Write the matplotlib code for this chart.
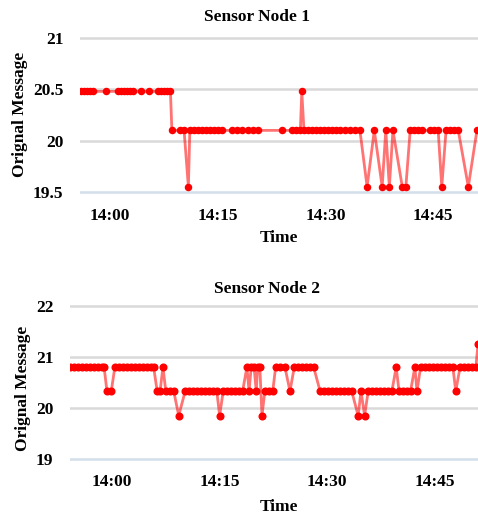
import matplotlib
matplotlib.use("Agg")
from matplotlib import pyplot as plt

# minutes after 14:00
node1_t = [-4.0, -3.6, -3.2, -2.8, -2.4, -0.6, 1.1, 1.5, 1.9, 2.4, 2.8, 3.2, 4.3, 5.4,
           6.7, 7.1, 7.5, 7.9, 8.4,
           8.6, 9.7, 10.3, 10.9,
           11.1, 11.7, 12.3, 12.8, 13.4, 13.9, 14.5, 15.0, 15.6, 17.0, 17.7, 18.4, 19.2, 19.9, 20.6, 24.0,
           25.3, 25.9, 26.5, 26.7,
           27.0, 27.6, 28.1, 28.7, 29.2, 29.8, 30.4, 30.9, 31.5, 32.0, 32.7, 33.4, 34.1, 34.8,
           35.8, 36.8, 37.9, 38.4, 38.9, 39.4, 40.7, 41.2,
           41.8, 42.3, 42.9, 43.5, 44.6, 45.1, 45.7, 46.2, 46.8, 47.4, 47.9, 48.5, 49.9, 51.1]
node1_v = [20.48, 20.48, 20.48, 20.48, 20.48, 20.48, 20.48, 20.48, 20.48, 20.48, 20.48, 20.48, 20.48, 20.48,
           20.48, 20.48, 20.48, 20.48, 20.48,
           20.1, 20.1, 20.1, 19.55,
           20.1, 20.1, 20.1, 20.1, 20.1, 20.1, 20.1, 20.1, 20.1, 20.1, 20.1, 20.1, 20.1, 20.1, 20.1, 20.1,
           20.1, 20.1, 20.1, 20.48,
           20.1, 20.1, 20.1, 20.1, 20.1, 20.1, 20.1, 20.1, 20.1, 20.1, 20.1, 20.1, 20.1, 20.1,
           19.55, 20.1, 19.55, 20.1, 19.55, 20.1, 19.55, 19.55,
           20.1, 20.1, 20.1, 20.1, 20.1, 20.1, 20.1, 19.55, 20.1, 20.1, 20.1, 20.1, 19.55, 20.1]

node2_t = [-5.8, -5.3, -4.7, -4.2, -3.6, -3.1, -2.5, -2.0, -1.4, -1.1, -0.7, -0.1,
           0.4, 1.0, 1.5, 2.1, 2.6, 3.2, 3.8, 4.3, 4.9, 5.4, 5.8,
           6.3, 6.7, 7.1, 7.5, 8.1, 8.6, 9.3,
           10.2, 10.7, 11.3, 11.8, 12.4, 13.0, 13.5, 14.1, 14.6, 15.0,
           15.5, 16.0, 16.6, 17.1, 17.7, 18.2, 18.8, 19.1, 19.4, 19.8, 20.1, 20.3, 20.6, 20.9,
           21.3, 21.9, 22.4, 22.8, 23.4, 24.1, 24.8, 25.4, 25.9, 26.5, 27.0, 27.6, 28.1,
           29.0, 29.5, 30.1, 30.6, 31.2, 31.8, 32.3, 32.9, 33.4, 34.3, 34.7, 35.2,
           35.7, 36.2, 36.8, 37.3, 37.9, 38.4, 39.0, 39.6, 40.0, 40.5, 41.1, 41.6, 42.2, 42.5,
           43.0, 43.6, 44.2, 44.7, 45.3, 45.8, 46.4, 46.9, 47.5, 47.9,
           48.5, 49.0, 49.6, 50.1, 50.7, 51.0]
node2_v = [20.8, 20.8, 20.8, 20.8, 20.8, 20.8, 20.8, 20.8, 20.8, 20.8, 20.33, 20.33,
           20.8, 20.8, 20.8, 20.8, 20.8, 20.8, 20.8, 20.8, 20.8, 20.8, 20.8,
           20.33, 20.33, 20.8, 20.33, 20.33, 20.33, 19.85,
           20.33, 20.33, 20.33, 20.33, 20.33, 20.33, 20.33, 20.33, 20.33, 19.85,
           20.33, 20.33, 20.33, 20.33, 20.33, 20.33, 20.8, 20.33, 20.8, 20.8, 20.33, 20.8, 20.8, 19.85,
           20.33, 20.33, 20.33, 20.8, 20.8, 20.8, 20.33, 20.8, 20.8, 20.8, 20.8, 20.8, 20.8,
           20.33, 20.33, 20.33, 20.33, 20.33, 20.33, 20.33, 20.33, 20.33, 19.85, 20.33, 19.85,
           20.33, 20.33, 20.33, 20.33, 20.33, 20.33, 20.33, 20.8, 20.33, 20.33, 20.33, 20.33, 20.8, 20.33,
           20.8, 20.8, 20.8, 20.8, 20.8, 20.8, 20.8, 20.8, 20.8, 20.33,
           20.8, 20.8, 20.8, 20.8, 20.8, 21.25]

x_ticks = [0, 15, 30, 45]
x_labels = ["14:00", "14:15", "14:30", "14:45"]
node1_yticks = [19.5, 20, 20.5, 21]
node1_ylabels = ["19.5", "20", "20.5", "21"]
node2_yticks = [19, 20, 21, 22]
node2_ylabels = ["19", "20", "21", "22"]

W, H = 478, 517
serif = ["Liberation Serif", "DejaVu Serif"]
fig = plt.figure(figsize=(W / 100, H / 100), dpi=100)


def px_axes(left, top, right, bottom):
    return fig.add_axes([left / W, 1 - bottom / H, (right - left) / W, (bottom - top) / H])


def draw(ax, t, v, yticks, ylabels, xlim, ylim, ms):
    for y in yticks:
        c = "#d3dfe9" if y == yticks[0] else "#d9d9d9"
        ax.axhline(y, color=c, lw=1.8, zorder=1)
    ax.plot(t, v, color="red", lw=2.0, alpha=0.55, zorder=2)
    ax.plot(t, v, ls="none", marker="o", ms=ms, color="red", mec="red", zorder=3)
    ax.set_xlim(*xlim)
    ax.set_ylim(*ylim)
    ax.set_xticks(x_ticks)
    ax.set_xticklabels(x_labels, fontfamily=serif, fontweight="bold", fontsize=12.5)
    ax.set_yticks(yticks)
    ax.set_yticklabels(ylabels, fontfamily=serif, fontweight="bold", fontsize=12.5)
    ax.tick_params(length=0)
    ax.tick_params(axis="y", pad=12)
    ax.tick_params(axis="x", pad=9)
    for s in ax.spines.values():
        s.set_visible(False)


# top chart
ax1 = px_axes(80, 36, 478, 195)
draw(ax1, node1_t, node1_v, node1_yticks, node1_ylabels, (-4.2, 51.25), (19.47, 21.02), 4.4)
fig.text(257 / W, 1 - 17 / H, "Sensor Node 1", ha="center", va="center",
         family=serif, weight="bold", fontsize=12.5)
fig.text(279 / W, 1 - 238 / H, "Time", ha="center", va="center",
         family=serif, weight="bold", fontsize=12.5)
fig.text(20 / W, 1 - 114 / H, "Orignal Message", ha="center", va="center", rotation=90,
         family=serif, weight="bold", fontsize=12.5)

# bottom chart
ax2 = px_axes(70, 303, 478, 462)
draw(ax2, node2_t, node2_v, node2_yticks, node2_ylabels, (-5.85, 51.0), (18.94, 22.06), 4.8)
fig.text(267 / W, 1 - 289 / H, "Sensor Node 2", ha="center", va="center",
         family=serif, weight="bold", fontsize=12.5)
fig.text(279 / W, 1 - 507 / H, "Time", ha="center", va="center",
         family=serif, weight="bold", fontsize=12.5)
fig.text(23 / W, 1 - 388 / H, "Orignal Message", ha="center", va="center", rotation=90,
         family=serif, weight="bold", fontsize=12.5)

fig.savefig("out.png", dpi=100)
